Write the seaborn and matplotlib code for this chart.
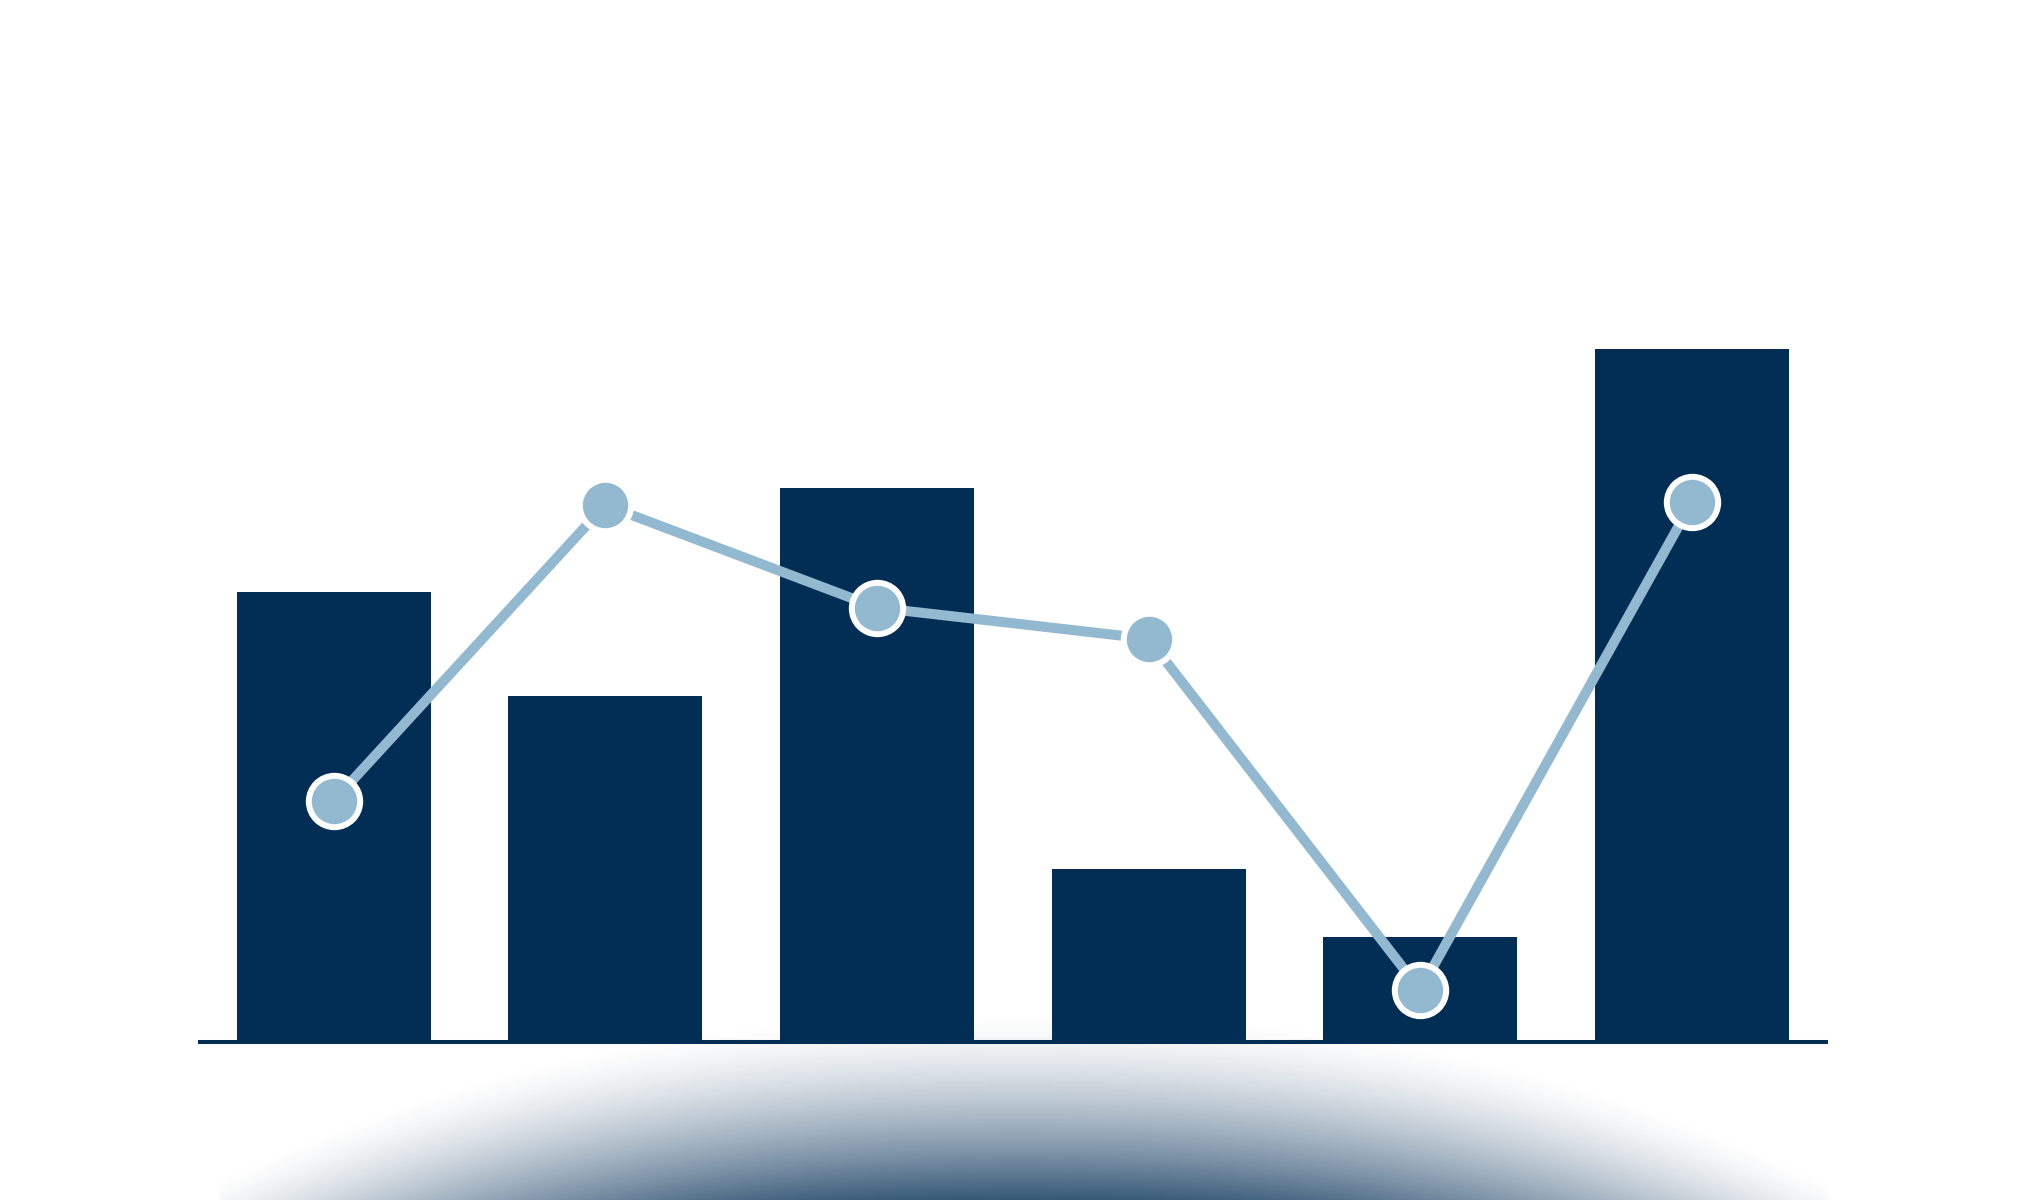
import numpy as np
import matplotlib.pyplot as plt
from matplotlib.colors import to_rgb
import seaborn as sns

# values (no axis shown, bar max = 100)
categories = ["A", "B", "C", "D", "E", "F"]
bar_values = [65, 50, 80, 25, 15.2, 100]
line_values = [34.8, 77.5, 62.7, 58.2, 7.5, 77.9]

navy = "#022d54"
light_blue = "#93b9d0"

sns.set_theme(style="white")
fig = plt.figure(figsize=(20.4, 12), dpi=100)

# soft shadow glow under the baseline, drawn in pixel coords on a background axes
bg = fig.add_axes([0, 0, 1, 1], zorder=0)
xs = np.arange(220, 1828) + 0.5
ys = np.arange(900, 1200) + 0.5
X, Y = np.meshgrid(xs, ys)
d = (np.abs(X - 1020) / 850) ** 2.3 + (1200 - Y) / 190
glow = np.zeros(X.shape + (4,))
glow[..., :3] = to_rgb(navy)
glow[..., 3] = 0.8 * np.clip(1 - d, 0, 1) ** 1.5
bg.imshow(glow, extent=(220, 1828, 1200, 900), aspect="auto", interpolation="bilinear")
bg.set_xlim(0, 2040)
bg.set_ylim(1200, 0)
bg.axis("off")

# main chart
ax = fig.add_axes([197.7 / 2040, 158 / 1200, 1630 / 2040, 1042 / 1200], zorder=1)
ax.patch.set_alpha(0)

sns.barplot(x=categories, y=bar_values, color=navy, saturation=1,
            width=0.714, linewidth=0, ax=ax)
sns.lineplot(x=np.arange(len(categories)), y=line_values, color=light_blue,
             linewidth=7.2, marker="o", markersize=37,
             markerfacecolor=light_blue, markeredgecolor="white",
             markeredgewidth=4.3, ax=ax, zorder=3)

ax.axhline(0, color=navy, lw=2.9, clip_on=False, zorder=4,
           solid_capstyle="butt")

ax.set_xlim(-0.5, 5.5)
ax.set_ylim(0, 150.4)
ax.axis("off")

fig.savefig("out.png", dpi=100)
